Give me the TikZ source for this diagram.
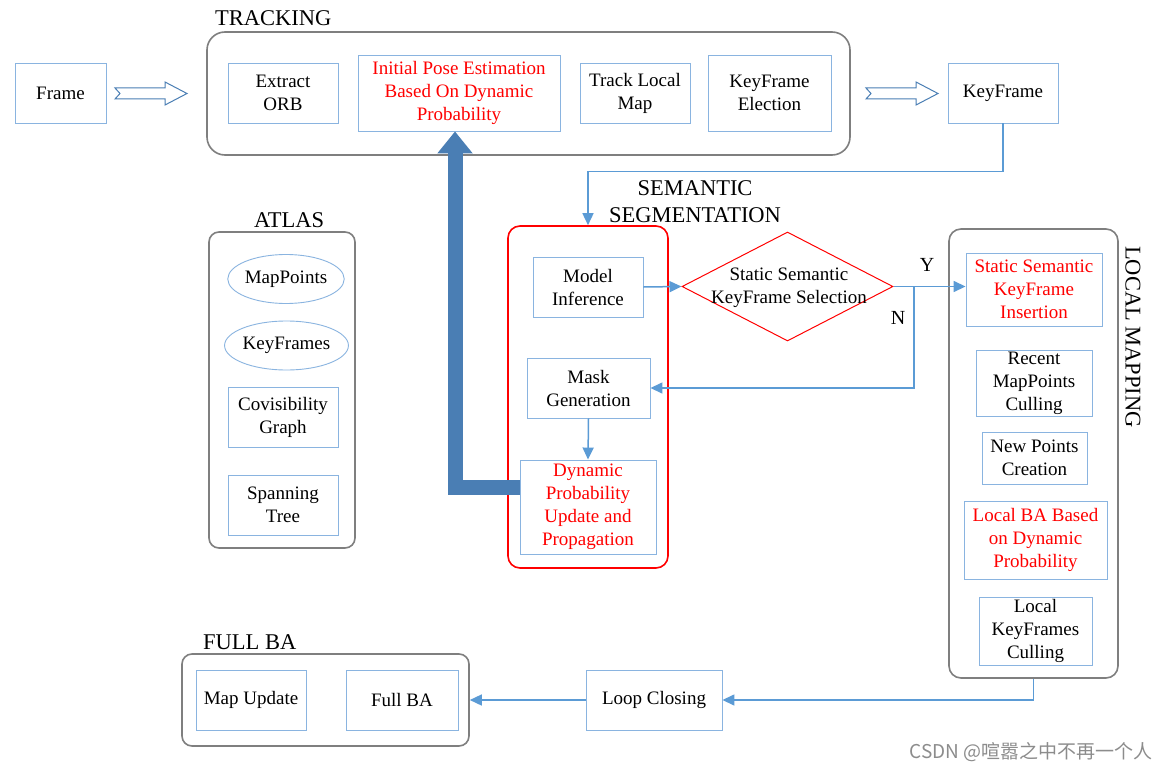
\documentclass[tikz,border=0pt]{standalone}
\usepackage{fontspec}
\setmainfont{Liberation Serif}
\newfontfamily\cjkfont{Noto Sans CJK SC}
\usetikzlibrary{arrows.meta,shapes.geometric}
\definecolor{bxblue}{HTML}{8AB4E0}
\definecolor{lnblue}{HTML}{5B9BD5}
\definecolor{thickblue}{HTML}{4A7EB4}
\definecolor{cgray}{HTML}{7F7F7F}
\begin{document}
\begin{tikzpicture}[x=1pt,y=-1pt,
  every node/.style={font=\fontsize{19}{23}\selectfont, align=center, inner sep=0pt},
  bx/.style={draw=bxblue, line width=0.9pt, rectangle},
  rtxt/.style={text=red},
  cont/.style={draw=cgray, line width=1.6pt, rounded corners=#1, rectangle},
  cont/.default=10pt,
  ttl/.style={font=\fontsize{22.5}{27}\selectfont},
  conn/.style={draw=lnblue, line width=1.5pt, -{Triangle[length=12pt,width=11pt]}},
  hollow/.style={draw=thickblue, line width=1pt, fill=white},
  bigarrow/.style={draw=thickblue, line width=15pt, line join=miter, -{Triangle[length=22pt,width=34pt]}}
]
\useasboundingbox (0,0) rectangle (1172,773);
\fill[white] (0,0) rectangle (1172,773);

% containers
\node[cont=18pt, minimum width=643pt, minimum height=123pt] (trk) at (528.5,93.5) {};
\node[cont=12pt, draw=red, minimum width=160pt, minimum height=342pt] (sem) at (588,397) {};
\node[cont, minimum width=146pt, minimum height=316pt] (atl) at (282,390) {};
\node[cont=12pt, minimum width=169pt, minimum height=449pt] (lm) at (1033.5,453.5) {};
\node[cont, minimum width=287pt, minimum height=92pt] (fba) at (325.5,700) {};

% titles
\node[ttl, anchor=west] (ttrk) at (215,18) {TRACKING};
\node[ttl] (tsem) at (695,202) {SEMANTIC\\SEGMENTATION};
\node[ttl] (tatl) at (289,220) {ATLAS};
\node[ttl, rotate=-90] (tlm) at (1133,337) {LOCAL MAPPING};
\node[ttl, anchor=west] (tfba) at (203,642) {FULL BA};

% tracking row
\node[bx, minimum width=91pt, minimum height=60pt] (frame) at (60.5,93) {Frame};
\node[bx, minimum width=110pt, minimum height=60pt] (orb) at (283,93) {Extract\\ORB};
\node[bx, rtxt, minimum width=202pt, minimum height=76pt] (ipe) at (459,93) {Initial Pose Estimation\\Based On Dynamic\\Probability};
\node[bx, minimum width=110pt, minimum height=60pt] (tlmap) at (635,93) {Track Local\\Map};
\node[bx, minimum width=123pt, minimum height=76pt] (kfe) at (769.5,93) {KeyFrame\\Election};
\node[bx, minimum width=110pt, minimum height=60pt] (kf) at (1003,93) {KeyFrame};

% hollow arrows
\draw[hollow] (115,88) -- (165,88) -- (165,82) -- (187,93.5) -- (165,105) -- (165,99) -- (115,99) -- (120,93.5) -- cycle;
\draw[hollow] (866,88) -- (916,88) -- (916,82) -- (938,93.5) -- (916,105) -- (916,99) -- (866,99) -- (871,93.5) -- cycle;

% semantic segmentation
\node[bx, minimum width=110pt, minimum height=60pt] (mi) at (588,287) {Model\\Inference};
\node[diamond, draw=red, line width=1pt, minimum width=211pt, minimum height=109pt] (dia) at (787.5,286.5) {};
\node (diat) at (789,287.5) {Static Semantic\\KeyFrame Selection};
\node[bx, minimum width=123pt, minimum height=60pt] (mg) at (588.5,388) {Mask\\Generation};
\node[bx, rtxt, minimum width=136pt, minimum height=94pt] (dp) at (588,507) {Dynamic\\Probability\\Update and\\Propagation};

% atlas
\node[ellipse, draw=bxblue, line width=0.9pt, minimum width=116pt, minimum height=49pt] (mp) at (286,279) {MapPoints};
\node[ellipse, draw=bxblue, line width=0.9pt, minimum width=117pt, minimum height=49pt] (kfs) at (286.5,345.5) {KeyFrames};
\node[bx, minimum width=110pt, minimum height=60pt] (cg) at (283,417) {Covisibility\\Graph};
\node[bx, minimum width=110pt, minimum height=60pt] (st) at (283,505) {Spanning\\Tree};

% local mapping
\node[bx, rtxt, minimum width=136pt, minimum height=73pt] (ssk) at (1034,289.5) {Static Semantic\\KeyFrame\\Insertion};
\node[bx, minimum width=116pt, minimum height=66pt] (rmc) at (1034,383) {Recent\\MapPoints\\Culling};
\node[bx, minimum width=105pt, minimum height=52pt] (npc) at (1034.5,458) {New Points\\Creation};
\node[bx, rtxt, minimum width=143pt, minimum height=78pt] (lba) at (1035.5,540) {Local BA Based\\on Dynamic\\Probability};
\node[bx, minimum width=113pt, minimum height=68pt] (lkc) at (1035.5,631) {Local\\KeyFrames\\Culling};

% full BA
\node[bx, minimum width=136pt, minimum height=60pt] (lc) at (654,700) {Loop Closing};
\node[bx, minimum width=110pt, minimum height=60pt] (mu) at (251,700) {Map Update};
\node[bx, minimum width=112pt, minimum height=60pt] (fb) at (402,700) {Full BA};

% labels
\node[font=\fontsize{20}{24}\selectfont] (ylab) at (927,265) {Y};
\node[font=\fontsize{20}{24}\selectfont] (nlab) at (898,318) {N};

% connectors
\draw[conn] (kf.south) -- ++(0,48) -| (sem.north);
\draw[conn] (mi.east) -- (dia.west);
\draw[conn] (dia.east) -- (dia.east -| ssk.west);
\coordinate (nj) at (914,286.5);
\draw[conn] (nj) |- (mg.east);
\draw[conn] (mg.south) -- (dp.north);
\draw[bigarrow] ([yshift=20pt]dp.west) -| ([xshift=-4pt]ipe.south);
\draw[conn] (lm.south) |- (lc.east);
\draw[conn] (lc.west) -- (fba.east);

% watermark
\node[font=\cjkfont\fontsize{19}{21}\selectfont, text=black!45] (wm) at (1031,752) {CSDN @喧嚣之中不再一个人};
\end{tikzpicture}
\end{document}
